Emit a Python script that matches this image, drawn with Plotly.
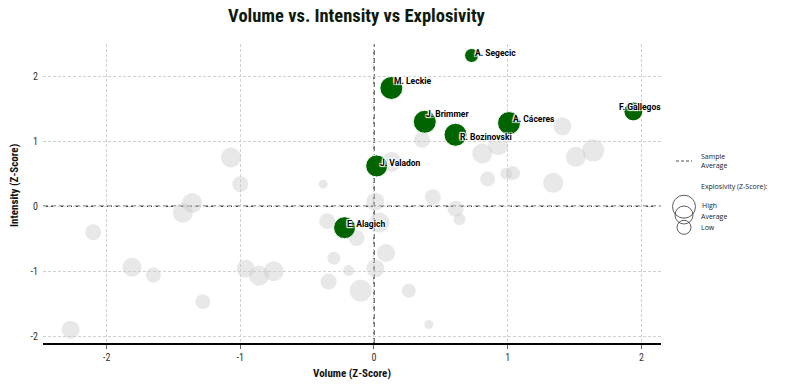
import plotly.graph_objects as go

# ---------------- data ----------------
gray_volume = [-2.27, -2.10, -1.81, -1.65, -1.28, -1.43, -1.36, -1.07, -1.00, -0.96,
               -0.86, -0.75, -0.38, -0.35, -0.13, -0.30, -0.19, -0.34, -0.10, 0.01,
               0.09, 0.04, 0.01, 0.13, 0.26, 0.41, 0.36, 0.81, 0.93, 0.85,
               0.99, 1.04, 1.34, 1.41, 1.51, 1.64, 0.44, 0.61, 0.64]
gray_intensity = [-1.90, -0.40, -0.94, -1.06, -1.47, -0.10, 0.05, 0.75, 0.34, -0.96,
                  -1.07, -1.00, 0.34, -0.23, -0.49, -0.80, -0.99, -1.16, -1.30, -0.96,
                  -0.72, -0.25, 0.07, 0.68, -1.30, -1.82, 1.02, 0.81, 0.94, 0.42,
                  0.50, 0.51, 0.36, 1.23, 0.76, 0.86, 0.14, -0.04, -0.20]
gray_explosivity = [0.0, -0.4, 0.2, -0.6, -0.6, 0.4, 0.4, 0.4, -0.4, 0.0,
                    0.4, 0.4, -1.8, -0.4, -0.4, -1.0, -1.4, -0.4, 0.8, 0.0,
                    0.0, 0.4, 0.0, 0.4, -0.8, -1.8, -0.4, 0.4, 0.4, -0.6,
                    -1.2, -0.8, 0.4, 0.0, 0.4, 0.8, -0.4, -0.4, -1.2]

hl_names = ["A. Segecic", "M. Leckie", "J. Brimmer", "R. Bozinovski",
            "A. Cáceres", "F. Gallegos", "J. Valadon", "E. Alagich"]
hl_volume = [0.73, 0.13, 0.38, 0.61, 1.01, 1.94, 0.02, -0.22]
hl_intensity = [2.32, 1.82, 1.30, 1.10, 1.28, 1.46, 0.62, -0.33]
hl_explosivity = [-0.8, 1.0, 1.0, 1.0, 1.0, 0.2, 0.8, 0.8]

tick_vals = [-2, -1, 0, 1, 2]
tick_text = ["-2", "-1", "0", "1", "2"]

# label offsets in pixels (dx, dy down-positive)
label_offsets = {"A. Segecic": (1, -2.5), "M. Leckie": (1, -6.6), "J. Brimmer": (-1, -7.7),
                 "R. Bozinovski": (2.4, 2.6), "A. Cáceres": (2, -4), "F. Gallegos": (-16.6, -4.4),
                 "J. Valadon": (1, -3.3), "E. Alagich": (0.7, -3.6)}

# ---------------- styling ----------------
W, H = 789, 390
ML, MR, MT, MB = 43, 128, 44, 47
PW, PH = W - ML - MR, H - MT - MB

def size_of(z):
    return 18 + 5 * z

TITLE_FONT = "Roboto Condensed, Liberation Sans Narrow, DejaVu Sans Condensed, Roboto"
LEG_FONT = "Open Sans"

fig = go.Figure()
fig.add_trace(go.Scatter(
    x=gray_volume, y=gray_intensity, mode="markers",
    marker=dict(size=[size_of(z) for z in gray_explosivity], opacity=1,
                color="rgba(200,200,200,0.42)", line=dict(width=0)),
    hoverinfo="skip", showlegend=False))
fig.add_trace(go.Scatter(
    x=hl_volume, y=hl_intensity, mode="markers",
    marker=dict(size=[size_of(z) for z in hl_explosivity], opacity=1,
                color="#006400", line=dict(width=1, color="white")),
    text=hl_names, showlegend=False))

halo = "1px 1px 1px white, -1px -1px 1px white, 1px -1px 1px white, -1px 1px 1px white"
annotations = []
for n, x, y in zip(hl_names, hl_volume, hl_intensity):
    dx, dy = label_offsets[n]
    annotations.append(dict(x=x, y=y, xref="x", yref="y", text=n, showarrow=False,
                            xanchor="left", yanchor="middle", xshift=dx, yshift=-dy,
                            font=dict(family="Roboto", size=8.5, color="black", weight="bold",
                                      shadow=halo)))

def px_x(p):
    return (p - ML) / PW

def px_y(p):
    return (H - MB - p) / PH

avg_line = dict(color="#4a4f4a", width=1.5, dash="5px,3px")
shapes = [
    dict(type="line", xref="x", yref="paper", x0=0, x1=0, y0=0, y1=1,
         line=avg_line, layer="below"),
    dict(type="line", xref="paper", yref="y", x0=0, x1=1, y0=0, y1=0,
         line=avg_line, layer="below"),
    # legend dashed line
    dict(type="line", xref="paper", yref="paper", x0=px_x(676), x1=px_x(692),
         y0=px_y(161), y1=px_y(161), line=dict(color="#4a4f4a", width=1, dash="3px,2px")),
]
for z, cy in [(1.0, 206.7), (0.0, 215), (-0.8, 227.3)]:
    r = size_of(z) / 2
    shapes.append(dict(type="circle", xref="paper", yref="paper",
                       x0=px_x(684 - r), x1=px_x(684 + r), y0=px_y(cy + r), y1=px_y(cy - r),
                       line=dict(color="#333333", width=0.8), fillcolor="rgba(0,0,0,0)"))

for txt, px, py in [("Sample<br>Average", 699, 161), ("Explosivity (Z-Score):", 699, 186),
                    ("High", 700, 205), ("Average", 699, 216), ("Low", 699, 227)]:
    annotations.append(dict(x=px_x(px), y=px_y(py), xref="paper", yref="paper", text=txt,
                            showarrow=False, xanchor="left", yanchor="middle", align="left",
                            font=dict(family=LEG_FONT, size=7, color="#222222")))

# y axis title as annotation
annotations.append(dict(x=px_x(14), y=px_y(186), xref="paper", yref="paper",
                        text="<b>Intensity (Z-Score)</b>", textangle=-90, showarrow=False,
                        xanchor="center", yanchor="middle",
                        font=dict(family=TITLE_FONT, size=11, color="#111111")))

fig.update_layout(
    width=W, height=H, margin=dict(l=ML, r=MR, t=MT, b=MB),
    paper_bgcolor="white", plot_bgcolor="white",
    title=dict(text="<b>Volume vs. Intensity vs Explosivity</b>", x=(223 + 490) / 2 / W,
               xanchor="center", y=1 - 16 / H, yanchor="middle",
               font=dict(family=TITLE_FONT, size=18.5, color="#0d1a0d")),
    xaxis=dict(range=[-2.476, 2.147], tickmode="array", tickvals=tick_vals, ticktext=tick_text,
               showgrid=True, gridcolor="#d0d0d0", griddash="3px,2px", gridwidth=0.8,
               zeroline=False, showline=True, linecolor="black", linewidth=1.5,
               ticks="outside", ticklen=4, tickcolor="#666666", tickwidth=1,
               tickfont=dict(family=TITLE_FONT, size=10, color="#333333"),
               title=dict(text="<b>Volume (Z-Score)</b>", standoff=8,
                          font=dict(family=TITLE_FONT, size=11, color="#111111"))),
    yaxis=dict(range=[-2.105, 2.497], tickmode="array", tickvals=tick_vals, ticktext=tick_text,
               showgrid=True, gridcolor="#d0d0d0", griddash="3px,2px", gridwidth=0.8,
               zeroline=False, showline=False, ticks="", ticklabelstandoff=4,
               tickfont=dict(family=TITLE_FONT, size=10, color="#333333")),
    shapes=shapes, annotations=annotations,
)

fig.write_html("out.html", config={"displayModeBar": False},
               post_script="document.body.style.margin='0px';")
